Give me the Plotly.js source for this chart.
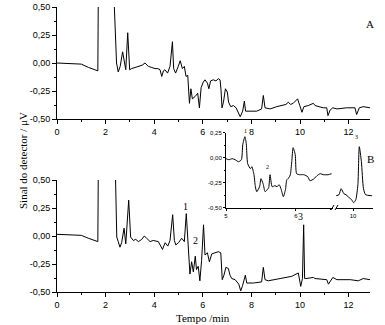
<!DOCTYPE html>
<html><head><meta charset="utf-8">
<script src="https://cdn.plot.ly/plotly-3.0.1.min.js"></script>
<style>html,body{margin:0;padding:0;background:#fff}</style>
</head><body><div id="chart" style="width:385px;height:325px"></div>
<script>
// Panel A chromatogram
const tA = [0, 0.5, 1.0, 1.3, 1.64, 1.68, 1.70, 1.72, 2.0, 2.35,
  2.36, 2.45, 2.52, 2.6, 2.7, 2.77, 2.83, 2.91, 2.99, 3.07,
  3.2, 3.35, 3.5, 3.62, 3.76, 3.9, 4.03, 4.15, 4.24, 4.31,
  4.38, 4.44, 4.55, 4.65, 4.75, 4.80, 4.88, 4.99, 5.07, 5.16,
  5.24, 5.31, 5.38, 5.45, 5.51, 5.57, 5.68, 5.79, 5.86, 5.93,
  6.02, 6.09, 6.19, 6.25, 6.32, 6.43, 6.54, 6.64, 6.71, 6.75,
  6.79, 6.85, 6.93, 7.01, 7.06, 7.15, 7.26, 7.37, 7.48, 7.54,
  7.64, 7.71, 7.76, 7.94, 8.22, 8.42, 8.49, 8.56, 8.77, 9.04,
  9.25, 9.42, 9.52, 9.61, 9.72, 9.90, 9.99, 10.08, 10.16, 10.34,
  10.55, 10.62, 10.96, 11.1, 11.15, 11.24, 11.35, 11.52, 11.92, 12.26,
  12.33, 12.44, 12.6, 12.88];
const yA = [0.0, -0.003, -0.01, -0.04, -0.07, -0.07, 0.6, 3, 5, 3,
  0.5, 0.0, -0.08, -0.03, 0.10, 0.0, -0.06, 0.27, -0.06, -0.05,
  -0.04, -0.03, -0.02, 0.0, -0.03, -0.04, -0.05, -0.05, -0.06, -0.12,
  -0.07, -0.06, -0.09, -0.03, 0.19, -0.05, -0.09, -0.03, 0.02, -0.05,
  -0.03, -0.12, -0.11, -0.36, -0.23, -0.32, -0.30, -0.27, -0.40, -0.22,
  -0.17, -0.15, -0.18, -0.23, -0.16, -0.15, -0.16, -0.14, -0.15, -0.24,
  -0.40, -0.35, -0.23, -0.26, -0.35, -0.39, -0.38, -0.40, -0.45, -0.48,
  -0.43, -0.34, -0.43, -0.43, -0.43, -0.41, -0.29, -0.40, -0.41, -0.39,
  -0.38, -0.37, -0.35, -0.37, -0.36, -0.32, -0.38, -0.44, -0.39, -0.38,
  -0.36, -0.38, -0.40, -0.40, -0.47, -0.42, -0.40, -0.41, -0.40, -0.40,
  -0.46, -0.40, -0.39, -0.40];

// Panel B chromatogram
const tB = [0, 0.5, 1.0, 1.29, 1.63, 1.68, 1.70, 1.72, 2.0, 2.40,
  2.41, 2.46, 2.52, 2.59, 2.66, 2.76, 2.83, 2.95, 3.03, 3.14,
  3.24, 3.35, 3.49, 3.59, 3.69, 3.83, 3.96, 4.17, 4.34, 4.45,
  4.56, 4.65, 4.76, 4.83, 4.89, 5.0, 5.13, 5.24, 5.32, 5.40,
  5.47, 5.54, 5.61, 5.69, 5.74, 5.81, 5.88, 5.95, 6.03, 6.09,
  6.19, 6.27, 6.37, 6.50, 6.64, 6.74, 6.80, 6.87, 6.95, 7.05,
  7.12, 7.19, 7.33, 7.48, 7.56, 7.64, 7.75, 7.81, 8.08, 8.42,
  8.49, 8.56, 8.69, 9.18, 9.45, 9.66, 9.93, 10.03, 10.10, 10.15,
  10.19, 10.24, 10.55, 10.62, 11.1, 11.17, 11.35, 11.52, 12.07, 12.4,
  12.6, 12.88];
const yB = [0.015, 0.01, 0.006, -0.02, -0.05, -0.05, 0.6, 3, 5, 3,
  0.5, -0.01, -0.05, -0.10, -0.06, 0.07, -0.07, 0.32, -0.01, -0.04,
  -0.03, -0.05, -0.03, 0.0, -0.02, -0.05, -0.04, -0.05, -0.12, -0.06,
  -0.09, -0.04, 0.19, -0.04, -0.08, -0.06, -0.02, -0.05, 0.20, -0.05,
  -0.34, -0.23, -0.32, -0.18, -0.30, -0.27, -0.40, -0.22, 0.10, -0.17,
  -0.15, -0.23, -0.16, -0.15, -0.14, -0.15, -0.39, -0.35, -0.28, -0.29,
  -0.35, -0.38, -0.39, -0.43, -0.49, -0.44, -0.35, -0.42, -0.42, -0.41,
  -0.28, -0.39, -0.40, -0.38, -0.37, -0.36, -0.33, -0.45, -0.38, 0.10,
  -0.38, -0.38, -0.37, -0.38, -0.39, -0.43, -0.37, -0.39, -0.39, -0.40,
  -0.38, -0.39];

// Inset (zoom of B), left segment 5 - 6.5 min
const tInL = [5.0, 5.04, 5.09, 5.13, 5.18, 5.22, 5.24, 5.27, 5.29, 5.31, 5.35, 5.37,
  5.40, 5.42, 5.44, 5.48, 5.50, 5.53, 5.56, 5.59, 5.61, 5.63, 5.66, 5.70,
  5.73, 5.76, 5.79, 5.82, 5.85, 5.87, 5.90, 5.92, 5.94, 5.96, 5.99, 6.01,
  6.05, 6.11, 6.17, 6.20, 6.26, 6.30, 6.35, 6.39, 6.46, 6.51];
const yInL = [-0.01, -0.02, -0.01, -0.02, -0.04, -0.02, 0.13, 0.21, 0.14, -0.06, -0.11, -0.09,
  -0.17, -0.29, -0.34, -0.29, -0.21, -0.26, -0.34, -0.32, -0.30, -0.17, -0.29, -0.28,
  -0.29, -0.27, -0.32, -0.39, -0.32, -0.22, -0.20, -0.17, -0.04, 0.10, 0.03, -0.16,
  -0.17, -0.17, -0.19, -0.23, -0.21, -0.18, -0.16, -0.17, -0.17, -0.16];
// Inset right segment around 10 min
const tInR = [9.76, 9.80, 9.83, 9.87, 9.90, 9.93, 9.98, 10.01, 10.04, 10.07, 10.09, 10.12, 10.15, 10.18, 10.27];
const yInR = [-0.38, -0.37, -0.31, -0.36, -0.37, -0.39, -0.42, -0.45, -0.42, -0.27, 0.11, -0.04, -0.31, -0.37, -0.38];

// Tick labels
const xTickVals = [0, 2, 4, 6, 8, 10, 12];
const xTickText = ["0", "2", "4", "6", "8", "10", "12"];
const yTickVals = [-0.5, -0.25, 0, 0.25, 0.5];
const yTickText = ["-0,50", "-0,25", "0,00", "0,25", "0,50"];
const inYTickVals = [-0.5, -0.25, 0, 0.25];
const inYTickText = ["-0,50", "-0,25", "0,00", "0,25"];
const inXLVals = [5, 6];
const inXLText = ["5", "6"];
const inXRVals = [10];
const inXRText = ["10"];

const W = 385, H = 325;
const px = v => v / W;
const py = v => 1 - v / H;

const line = {color: '#000', width: 1};
const traces = [
  {x: tA, y: yA, xaxis: 'x', yaxis: 'y', mode: 'lines', line: line},
  {x: tB, y: yB, xaxis: 'x2', yaxis: 'y2', mode: 'lines', line: line},
  {x: tInL, y: yInL, xaxis: 'x3', yaxis: 'y3', mode: 'lines', line: {color: '#000', width: 1, shape: 'spline', smoothing: 0.6}},
  {x: tInR, y: yInR, xaxis: 'x4', yaxis: 'y3', mode: 'lines', line: {color: '#000', width: 1, shape: 'spline', smoothing: 0.6}}
];

const tickFont = {family: 'Liberation Sans, Arial, sans-serif', size: 9, color: '#000'};
const smallFont = {family: 'Liberation Sans, Arial, sans-serif', size: 6, color: '#000'};
const serif = 'Liberation Serif, Times New Roman, serif';

function mainX(anchor) {
  return {domain: [px(57), px(370)], range: [0, 12.88], anchor: anchor,
    showline: true, linecolor: '#000', linewidth: 1, showgrid: false, zeroline: false,
    tickmode: 'array', tickvals: xTickVals, ticktext: xTickText,
    ticks: 'outside', ticklen: 4, tickcolor: '#000', tickfont: tickFont,
    minor: {tickmode: 'linear', tick0: 0, dtick: 1, ticks: 'outside', ticklen: 2, tickcolor: '#000', showgrid: false}};
}
function mainY(anchor, d0, d1) {
  return {domain: [py(d1), py(d0)], range: [-0.5, 0.5], anchor: anchor,
    showline: true, linecolor: '#000', linewidth: 1, showgrid: false, zeroline: false,
    tickmode: 'array', tickvals: yTickVals, ticktext: yTickText,
    ticks: 'outside', ticklen: 4, tickcolor: '#000', tickfont: tickFont,
    minor: {tickmode: 'linear', tick0: 0, dtick: 0.125, ticks: 'outside', ticklen: 2, tickcolor: '#000', showgrid: false}};
}

const layout = {
  width: W, height: H, autosize: false,
  margin: {l: 0, r: 0, t: 0, b: 0},
  paper_bgcolor: '#fff', plot_bgcolor: 'rgba(0,0,0,0)',
  showlegend: false,
  xaxis: mainX('y'),
  yaxis: mainY('x', 7, 119),
  xaxis2: mainX('y2'),
  yaxis2: mainY('x2', 180, 292),
  xaxis3: {domain: [px(226), px(333)], range: [5, 6.53], anchor: 'y3',
    showline: true, linecolor: '#000', linewidth: 1, showgrid: false, zeroline: false,
    tickmode: 'array', tickvals: inXLVals, ticktext: inXLText,
    ticks: 'outside', ticklen: 2, tickcolor: '#000', tickfont: smallFont,
    minor: {tickmode: 'linear', tick0: 5, dtick: 0.5, ticks: 'outside', ticklen: 1, tickcolor: '#000', showgrid: false}},
  xaxis4: {domain: [px(336), px(373)], range: [9.757, 10.286], anchor: 'y3',
    showline: true, linecolor: '#000', linewidth: 1, showgrid: false, zeroline: false,
    tickmode: 'array', tickvals: inXRVals, ticktext: inXRText,
    ticks: 'outside', ticklen: 2, tickcolor: '#000', tickfont: smallFont},
  yaxis3: {domain: [py(207.7), py(132.7)], range: [-0.5, 0.25], anchor: 'x3',
    showline: true, linecolor: '#000', linewidth: 1, showgrid: false, zeroline: false,
    tickmode: 'array', tickvals: inYTickVals, ticktext: inYTickText,
    ticks: 'outside', ticklen: 2, tickcolor: '#000', tickfont: smallFont,
    minor: {tickmode: 'linear', tick0: 0, dtick: 0.125, ticks: 'outside', ticklen: 1, tickcolor: '#000', showgrid: false}},
  shapes: [
    {type: 'line', xref: 'paper', yref: 'paper', x0: px(331), y0: py(210), x1: px(334), y1: py(205), line: {color: '#000', width: 1}},
    {type: 'line', xref: 'paper', yref: 'paper', x0: px(335), y0: py(210), x1: px(338), y1: py(205), line: {color: '#000', width: 1}}
  ],
  annotations: [
    {xref: 'paper', yref: 'paper', x: px(15), y: py(161), text: 'Sinal do detector / μV', textangle: -90, showarrow: false,
      font: {family: serif, size: 11, color: '#000'}},
    {xref: 'paper', yref: 'paper', x: px(203), y: 0, yanchor: 'bottom', borderpad: 0, text: 'Tempo /min', showarrow: false,
      font: {family: serif, size: 11, color: '#000'}},
    {xref: 'paper', yref: 'paper', x: px(376), y: py(16), text: 'A', showarrow: false, font: {family: serif, size: 11, color: '#000'}},
    {xref: 'paper', yref: 'paper', x: px(376), y: py(159), text: 'B', showarrow: false, font: {family: serif, size: 11, color: '#000'}},
    {xref: 'paper', yref: 'paper', x: px(185), y: py(206), text: '1', showarrow: false, font: {family: serif, size: 10, color: '#000'}},
    {xref: 'paper', yref: 'paper', x: px(196), y: py(248), text: '2', showarrow: false, font: {family: serif, size: 10, color: '#000'}},
    {xref: 'paper', yref: 'paper', x: px(305), y: py(216), text: '3', showarrow: false, font: {family: serif, size: 10, color: '#000'}},
    {xref: 'paper', yref: 'paper', x: px(245), y: py(131), text: '1', showarrow: false, font: {family: serif, size: 6, color: '#000'}},
    {xref: 'paper', yref: 'paper', x: px(271), y: py(167), text: '2', showarrow: false, font: {family: serif, size: 6, color: '#000'}},
    {xref: 'paper', yref: 'paper', x: px(360), y: py(137), text: '3', showarrow: false, font: {family: serif, size: 6, color: '#000'}}
  ]
};

Plotly.newPlot('chart', traces, layout, {staticPlot: true, displayModeBar: false});
</script>
</body></html>
